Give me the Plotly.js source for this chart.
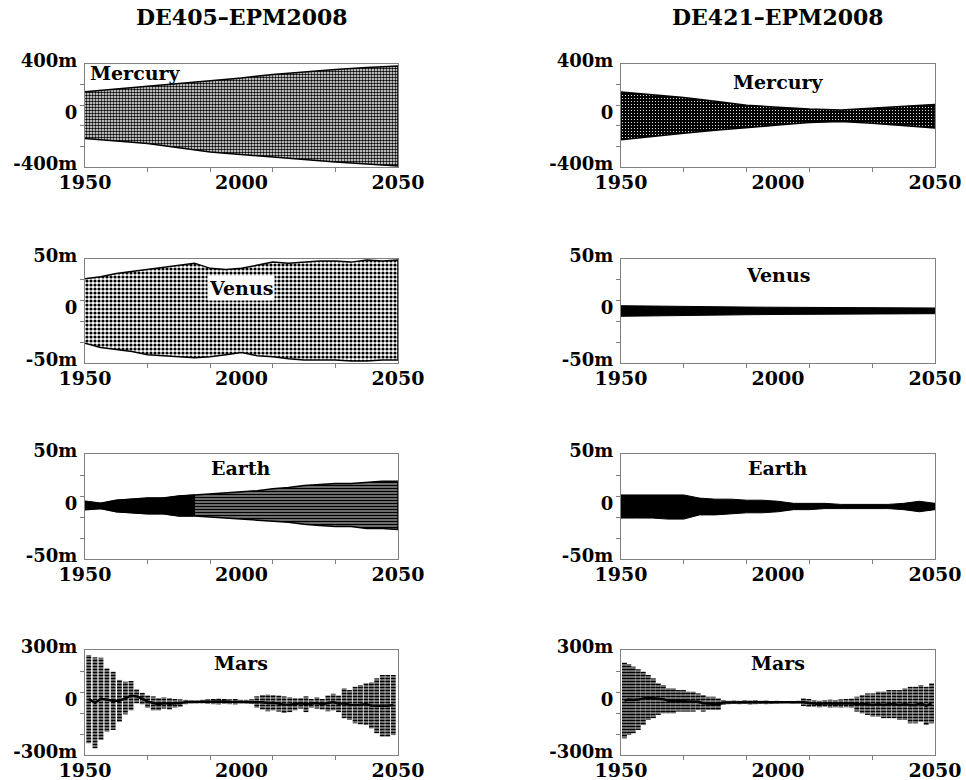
<!DOCTYPE html>
<html>
<head>
<meta charset="utf-8">
<script src="https://cdn.plot.ly/plotly-3.0.1.min.js"></script>
<style>html,body{margin:0;padding:0;background:#fff;}#chart{width:966px;height:780px;}</style>
</head>
<body>
<div id="chart"></div>
<script>
// ---------------- DATA ----------------
const columnTitles = ['DE405\u2013EPM2008', 'DE421\u2013EPM2008'];
const planetNames = ['Mercury', 'Venus', 'Earth', 'Mars'];
const xTickText = ['1950', '2000', '2050'];
const mercuryTicks = ['-400m', '0', '400m'];
const venusTicks = ['-50m', '0', '50m'];
const earthTicks = ['-50m', '0', '50m'];
const marsTicks = ['-300m', '0', '300m'];

// envelopes (upper / lower extent of residuals, metres)
const yrs10 = [1950, 1960, 1970, 1980, 1990, 2000, 2010, 2020, 2030, 2040, 2050];
const yrs5 = [1950, 1955, 1960, 1965, 1970, 1975, 1980, 1985, 1990, 1995, 2000, 2005, 2010, 2015, 2020, 2025, 2030, 2035, 2040, 2045, 2050];

const mercury405Hi = [184, 205, 228, 250, 270, 292, 318, 340, 358, 372, 384];
const mercury405Lo = [-179, -198, -218, -250, -283, -303, -322, -342, -361, -378, -392];
const mercury421Hi = [183, 162, 139, 110, 80, 64, 50, 42, 55, 70, 86];
const mercury421Lo = [-188, -163, -137, -115, -93, -74, -55, -47, -60, -78, -98];

const venus405Hi = [31, 33, 36, 38, 40, 42, 44, 46, 41, 40, 41, 44, 47, 46, 47, 48, 48, 47, 49, 48, 49];
const venus405Lo = [-31, -35, -37, -39, -42, -43, -44, -45, -44, -42, -40, -43, -44, -46, -47, -47, -47, -48, -48, -47, -47];
const venus421Hi = [5.1, 4.6, 4.3, 4.0, 3.8, 3.6, 3.4, 3.2, 3.0, 3.0, 2.9];
const venus421Lo = [-5.1, -4.6, -4.2, -3.9, -3.6, -3.3, -3.1, -2.9, -2.7, -2.6, -2.6];

const earth405Hi = [5, 3, 6, 7, 8, 8, 10, 11, 12, 13, 14, 15, 17, 18, 20, 21, 22, 22, 23, 24, 24];
const earth405Lo = [-3, -2, -5, -6, -7, -7, -9, -9, -10, -11, -12, -13, -14, -15, -17, -18, -19, -19, -21, -21, -22];
const earth421Hi = [11, 11, 11, 11, 11, 8, 7, 7, 6, 6, 5, 3, 3, 3, 2, 2, 2, 2, 3, 5, 3];
const earth421Lo = [-11, -11, -11, -12, -12, -8, -8, -7, -6, -6, -5, -3, -3, -2, -2, -2, -2, -2, -3, -5, -3];

// Mars: one column per opposition window (year, top, bottom)
const mars405Year = [1951.2, 1953.2, 1955.1, 1957.0, 1959.0, 1961.0, 1962.9, 1964.7, 1966.5, 1968.3, 1970.0, 1971.8, 1973.5, 1975.2, 1977.0, 1978.7, 1980.4, 1982.2, 1984.0, 1985.7, 1987.5, 1989.2, 1991.0, 1992.7, 1994.5, 1996.2, 1998.0, 1999.7, 2001.5, 2003.2, 2004.9, 2006.7, 2008.4, 2010.1, 2011.9, 2013.6, 2015.4, 2017.1, 2018.9, 2020.6, 2022.3, 2024.1, 2025.8, 2027.6, 2029.3, 2031.0, 2032.8, 2034.5, 2036.3, 2038.0, 2039.8, 2041.5, 2043.2, 2045.0, 2046.7, 2048.5];
const mars405Top = [271, 258, 256, 195, 176, 129, 119, 123, 75, 55, 40, 35, 25, 30, 25, 20, 18, 15, 12, 10, 15, 18, 20, 22, 20, 18, 20, 15, 15, 18, 35, 43, 45, 43, 40, 35, 30, 25, 25, 35, 20, 30, 20, 40, 50, 40, 81, 71, 90, 100, 110, 115, 138, 157, 157, 157];
const mars405Bot = [-233, -262, -214, -167, -157, -110, -68, -45, -5, -10, -30, -45, -45, -35, -40, -30, -25, -10, -5, -5, -5, -8, -10, -12, -8, -10, -12, -5, -5, -8, -30, -40, -50, -45, -52, -60, -55, -45, -35, -55, -30, -35, -40, -50, -45, -55, -90, -100, -119, -125, -129, -148, -176, -195, -195, -186];

const mars421Year = [1951.1, 1952.5, 1953.9, 1955.5, 1957.1, 1958.7, 1960.3, 1961.9, 1963.5, 1965.1, 1966.7, 1968.3, 1969.9, 1971.4, 1973.0, 1974.6, 1976.2, 1977.8, 1979.4, 1981.0, 1982.6, 1984.3, 1986.0, 1987.7, 1989.4, 1991.1, 1992.8, 1994.5, 1996.2, 1997.9, 1999.6, 2001.3, 2003.0, 2004.7, 2006.4, 2008.1, 2009.8, 2011.5, 2013.2, 2014.9, 2016.6, 2018.3, 2020.0, 2021.7, 2023.4, 2025.1, 2026.8, 2028.5, 2030.2, 2031.9, 2033.6, 2035.3, 2037.0, 2038.7, 2040.4, 2042.1, 2043.8, 2045.5, 2047.2, 2048.9];
const mars421Top = [228, 220, 205, 190, 176, 157, 138, 110, 100, 81, 81, 71, 71, 62, 62, 52, 43, 33, 33, 24, 14, 10, 12, 10, 14, 12, 14, 10, 12, 8, 10, 6, 5, 8, 10, 24, 20, 14, 10, 14, 16, 14, 18, 20, 22, 33, 43, 52, 52, 62, 62, 71, 71, 71, 81, 90, 90, 100, 90, 110];
const mars421Bot = [-205, -186, -176, -157, -129, -100, -90, -71, -62, -62, -62, -52, -52, -52, -52, -43, -52, -43, -43, -43, -14, -10, -8, -10, -8, -12, -10, -8, -10, -8, -6, -4, -3, -6, -5, -20, -25, -24, -28, -24, -30, -28, -30, -28, -30, -52, -62, -71, -81, -81, -90, -90, -90, -100, -100, -119, -119, -110, -129, -119];

const yRanges = [400, 50, 50, 300];

// ---------------- BUILD ----------------
const LABEL_FONT = 'DejaVu Serif, Liberation Serif, serif';
const EARTH405_DENSE_UNTIL = 1985; // texture changes from solid to lined here
const colX = [[85 / 966, 398 / 966], [621 / 966, 935 / 966]];
const rowY = [[1 - 167 / 780, 1 - 64 / 780], [1 - 363 / 780, 1 - 259 / 780], [1 - 559 / 780, 1 - 454 / 780], [1 - 755 / 780, 1 - 650 / 780]];
const yTickTexts = [mercuryTicks, venusTicks, earthTicks, marsTicks];

const traces = [];
const layout = {
  width: 966, height: 780,
  margin: {l: 0, r: 0, t: 0, b: 0},
  paper_bgcolor: '#fff', plot_bgcolor: '#fff',
  showlegend: false, barmode: 'overlay',
  font: {family: LABEL_FONT, color: '#000'},
  annotations: []
};

function envelope(xs, hi, lo, ax, pattern) {
  const x = xs.concat(xs.slice().reverse());
  const y = hi.concat(lo.slice().reverse());
  traces.push({
    type: 'scatter', mode: 'lines', x: x, y: y, fill: 'toself',
    fillcolor: '#000', fillpattern: pattern,
    line: {color: '#000', width: 1.5},
    xaxis: 'x' + ax.n, yaxis: 'y' + ax.n, hoverinfo: 'skip'
  });
}
function solid(xs, hi, lo, ax) {
  const x = xs.concat(xs.slice().reverse());
  const y = hi.concat(lo.slice().reverse());
  traces.push({
    type: 'scatter', mode: 'lines', x: x, y: y, fill: 'toself',
    fillcolor: '#000', line: {color: '#000', width: 1},
    xaxis: 'x' + ax.n, yaxis: 'y' + ax.n, hoverinfo: 'skip'
  });
}
function marsBars(yr, top, bot, ax) {
  traces.push({
    type: 'bar', x: yr, base: bot, y: yr.map((_, i) => top[i] - bot[i]),
    width: 1.55,
    marker: {color: '#000', line: {width: 0},
      pattern: {shape: '-', fgcolor: '#000', bgcolor: '#fff', size: 3, solidity: 0.72}},
    xaxis: 'x' + ax.n, yaxis: 'y' + ax.n, hoverinfo: 'skip'
  });
  const mid = yr.map((_, i) => (top[i] + bot[i]) / 2);
  traces.push({
    type: 'scatter', mode: 'lines', x: yr, y: mid,
    line: {color: '#000', width: 2.5}, xaxis: 'x' + ax.n, yaxis: 'y' + ax.n, hoverinfo: 'skip'
  });
}

for (let r = 0; r < 4; r++) {
  for (let c = 0; c < 2; c++) {
    const n = r * 2 + c + 1;
    const R = yRanges[r];
    const sfx = n === 1 ? '' : String(n);
    layout['xaxis' + sfx] = {
      domain: colX[c], anchor: 'y' + sfx, range: [1950, 2050],
      showline: true, mirror: true, linecolor: '#808080', linewidth: 1,
      showgrid: false, zeroline: false, ticks: '',
      tickmode: 'array', tickvals: [1950, 2000, 2050], ticktext: xTickText,
      tickfont: {family: LABEL_FONT, size: 19, color: '#000', weight: 'bold'},
      ticklabelstandoff: -2,
      minor: {tickmode: 'array', tickvals: [1970, 1990, 2010, 2030], ticks: 'outside', ticklen: 4, tickcolor: '#808080', tickwidth: 1, showgrid: false},
      fixedrange: true
    };
    layout['yaxis' + sfx] = {
      domain: rowY[r], anchor: 'x' + sfx, range: [-R, R],
      showline: true, mirror: true, linecolor: '#808080', linewidth: 1,
      showgrid: false, zeroline: false, ticks: '',
      tickmode: 'array', tickvals: [-R, 0, R], ticktext: yTickTexts[r],
      tickfont: {family: LABEL_FONT, size: 18, color: '#000', weight: 'bold'},
      ticklabelstandoff: 3, ticklabelshift: -3,
      minor: {tickmode: 'array', tickvals: [-0.6 * R, -0.2 * R, 0.2 * R, 0.6 * R], ticks: 'outside', ticklen: 4, tickcolor: '#808080', tickwidth: 1, showgrid: false},
      fixedrange: true
    };
    const lab = {
      xref: 'x' + sfx + ' domain', yref: 'y' + sfx + ' domain',
      text: planetNames[r], showarrow: false,
      font: {family: LABEL_FONT, size: 19, color: '#000', weight: 'bold'}
    };
    if (r === 0 && c === 0) { Object.assign(lab, {x: 0.01, xanchor: 'left', y: 0.91, yanchor: 'middle'}); }
    else if (r === 1 && c === 0) { Object.assign(lab, {x: 0.5, xanchor: 'center', y: 0.72, yanchor: 'middle', bgcolor: '#fff'}); }
    else { Object.assign(lab, {x: 0.5, xanchor: 'center', y: [0.83, 0.845, 0.865, 0.875][r], yanchor: 'middle'}); }
    layout.annotations.push(lab);
  }
}

layout.annotations.push({xref: 'paper', yref: 'paper', x: (colX[0][0] + colX[0][1]) / 2, y: 1 - 17 / 780, xanchor: 'center', yanchor: 'middle', showarrow: false, text: columnTitles[0], font: {family: LABEL_FONT, size: 22, color: '#000', weight: 'bold'}});
layout.annotations.push({xref: 'paper', yref: 'paper', x: (colX[1][0] + colX[1][1]) / 2, y: 1 - 17 / 780, xanchor: 'center', yanchor: 'middle', showarrow: false, text: columnTitles[1], font: {family: LABEL_FONT, size: 22, color: '#000', weight: 'bold'}});

envelope(yrs10, mercury405Hi, mercury405Lo, {n: ''}, {shape: '.', fgcolor: '#000', bgcolor: '#fff', size: 3, solidity: 0.55});
envelope(yrs10, mercury421Hi, mercury421Lo, {n: '2'}, {shape: '.', fgcolor: '#fff', bgcolor: '#000', size: 3, solidity: 0.12});
envelope(yrs5, venus405Hi, venus405Lo, {n: '3'}, {shape: '.', fgcolor: '#000', bgcolor: '#fff', size: 4, solidity: 0.5});
solid(yrs10, venus421Hi, venus421Lo, {n: '4'});
envelope(yrs5, earth405Hi, earth405Lo, {n: '5'}, {shape: '-', fgcolor: '#000', bgcolor: '#fff', size: 3, solidity: 0.72});
(function () {
  const k = yrs5.filter(y => y <= EARTH405_DENSE_UNTIL).length;
  solid(yrs5.slice(0, k), earth405Hi.slice(0, k), earth405Lo.slice(0, k), {n: '5'});
})();
solid(yrs5, earth421Hi, earth421Lo, {n: '6'});
marsBars(mars405Year, mars405Top, mars405Bot, {n: '7'});
marsBars(mars421Year, mars421Top, mars421Bot, {n: '8'});

Plotly.newPlot('chart', traces, layout, {staticPlot: true, displayModeBar: false});
</script>
</body>
</html>
